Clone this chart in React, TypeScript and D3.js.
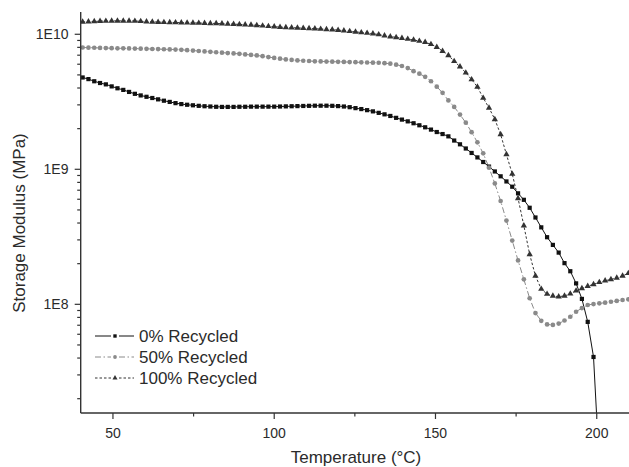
import React from "react";
import * as d3 from "d3";

// Temperature (°C) of every measured point
const temperatures = [
  40.6, 42.4, 44.2, 46.0, 47.8, 49.6, 51.4, 53.2, 55.0, 56.8, 58.6, 60.4, 62.2, 64.0, 65.8, 67.6, 69.4, 71.2, 73.0, 74.8,
  76.6, 78.4, 80.2, 82.0, 83.8, 85.6, 87.4, 89.2, 91.0, 92.8, 94.6, 96.4, 98.2, 100.0, 101.8, 103.6, 105.4, 107.2, 109.0, 110.8,
  112.6, 114.4, 116.2, 118.0, 119.8, 121.6, 123.4, 125.2, 127.0, 128.8, 130.6, 132.4, 134.2, 136.0, 137.8, 139.6, 141.4, 143.2, 145.0, 146.8,
  148.6, 150.4, 152.2, 154.0, 155.8, 157.6, 159.4, 161.2, 163.0, 164.8, 166.6, 168.4, 170.2, 172.0, 173.8, 175.6, 177.4, 179.2, 181.0, 182.8,
  184.6, 186.4, 188.2, 190.0, 191.8, 193.6, 195.4, 197.2, 199.0, 200.8, 202.6, 204.4, 206.2, 208.0, 209.8,
];

// log10 of storage modulus (MPa), 0% recycled
const log10Modulus0 = [
  9.680, 9.668, 9.652, 9.639, 9.629, 9.614, 9.600, 9.588, 9.573, 9.559, 9.547, 9.537, 9.528, 9.518, 9.508, 9.499, 9.490, 9.483, 9.478, 9.474,
  9.470, 9.467, 9.465, 9.463, 9.462, 9.462, 9.462, 9.463, 9.463, 9.464, 9.464, 9.464, 9.464, 9.464, 9.465, 9.466, 9.467, 9.468, 9.469, 9.470,
  9.471, 9.471, 9.471, 9.470, 9.468, 9.465, 9.460, 9.453, 9.446, 9.438, 9.429, 9.418, 9.407, 9.395, 9.381, 9.368, 9.355, 9.341, 9.326, 9.311,
  9.294, 9.276, 9.261, 9.244, 9.213, 9.185, 9.154, 9.121, 9.088, 9.054, 9.020, 8.984, 8.948, 8.910, 8.871, 8.822, 8.774, 8.715, 8.643, 8.570,
  8.497, 8.440, 8.383, 8.305, 8.245, 8.155, 8.040, 7.870, 7.610, 6.800,
];

// log10 of storage modulus (MPa), 50% recycled
const log10Modulus50 = [
  9.902, 9.901, 9.900, 9.899, 9.898, 9.897, 9.896, 9.896, 9.895, 9.894, 9.893, 9.892, 9.891, 9.890, 9.889, 9.888, 9.887, 9.885, 9.882, 9.879,
  9.876, 9.873, 9.870, 9.867, 9.864, 9.861, 9.858, 9.855, 9.851, 9.847, 9.843, 9.838, 9.831, 9.825, 9.819, 9.814, 9.810, 9.806, 9.804, 9.802,
  9.800, 9.799, 9.798, 9.797, 9.796, 9.795, 9.794, 9.793, 9.792, 9.791, 9.790, 9.789, 9.786, 9.782, 9.775, 9.765, 9.750, 9.727, 9.708, 9.685,
  9.652, 9.612, 9.566, 9.510, 9.462, 9.405, 9.345, 9.275, 9.200, 9.118, 9.012, 8.895, 8.765, 8.620, 8.472, 8.325, 8.185, 8.045, 7.935, 7.878,
  7.851, 7.847, 7.857, 7.880, 7.908, 7.945, 7.972, 7.995, 8.002, 8.007, 8.012, 8.019, 8.025, 8.032, 8.037,
];

// log10 of storage modulus (MPa), 100% recycled
const log10Modulus100 = [
  10.091, 10.093, 10.095, 10.097, 10.098, 10.099, 10.099, 10.099, 10.099, 10.098, 10.096, 10.094, 10.092, 10.090, 10.089, 10.088, 10.087, 10.086, 10.085, 10.084,
  10.083, 10.082, 10.081, 10.080, 10.078, 10.077, 10.075, 10.073, 10.071, 10.069, 10.066, 10.063, 10.059, 10.056, 10.053, 10.051, 10.049, 10.047, 10.045, 10.043,
  10.041, 10.039, 10.036, 10.034, 10.031, 10.027, 10.022, 10.018, 10.013, 10.009, 10.004, 9.998, 9.990, 9.983, 9.977, 9.971, 9.965, 9.958, 9.950, 9.941,
  9.926, 9.905, 9.875, 9.843, 9.800, 9.760, 9.715, 9.665, 9.610, 9.528, 9.455, 9.370, 9.258, 9.110, 8.965, 8.785, 8.582, 8.370, 8.210, 8.113,
  8.076, 8.062, 8.057, 8.062, 8.078, 8.100, 8.118, 8.134, 8.148, 8.163, 8.175, 8.184, 8.196, 8.210, 8.230,
];

const seriesNames = ["0% Recycled", "50% Recycled", "100% Recycled"];
const xTicks = [50, 100, 150, 200];
const xMinorTicks = [75, 125, 175];
const yTicks = [1e8, 1e9, 1e10];
const yTickLabels = ["1E8", "1E9", "1E10"];
const xLabel = "Temperature (°C)";
const yLabel = "Storage Modulus (MPa)";

const FONT = "'Liberation Sans', Arial, Helvetica, sans-serif";
const AXIS = "#333";
const TEXT = "#2b2b2b";

type Style = {
  stroke: string;
  fill: string;
  dash: string;
  shape: "square" | "circle" | "triangle";
};
const styles: Style[] = [
  { stroke: "#111", fill: "#111", dash: "none", shape: "square" },
  { stroke: "#8a8a8a", fill: "#8a8a8a", dash: "6,2.5,1.5,2.5", shape: "circle" },
  { stroke: "#333", fill: "#333", dash: "2.5,2", shape: "triangle" },
];

function Marker({ cx, cy, s, scale = 1 }: { cx: number; cy: number; s: Style; scale?: number }) {
  if (s.shape === "square") {
    const h = 2.1 * scale;
    return <rect x={cx - h} y={cy - h} width={2 * h} height={2 * h} fill={s.fill} />;
  }
  if (s.shape === "circle") return <circle cx={cx} cy={cy} r={2.35 * scale} fill={s.fill} />;
  const p = d3.symbol().type(d3.symbolTriangle).size(17 * scale * scale)();
  return <path d={p || ""} transform={`translate(${cx},${cy})`} fill={s.fill} />;
}

export default function App() {
  const W = 629;
  const H = 467;
  const left = 80.7;
  const right = 629;
  const top = 12;
  const bottom = 413;
  const x = d3.scaleLinear().domain([40, 210]).range([left, right]);
  const y = d3.scaleLog().domain([1.567e7, 1.462e10]).range([bottom, top]);

  const allSeries = [log10Modulus0, log10Modulus50, log10Modulus100].map((arr) =>
    arr.map((lv, i) => ({ t: temperatures[i], v: Math.pow(10, lv) }))
  );

  const line = d3
    .line<{ t: number; v: number }>()
    .x((d) => x(d.t))
    .y((d) => y(d.v));

  const yMinor: number[] = [];
  [1e7, 1e8, 1e9].forEach((dec) => {
    for (let k = 2; k <= 9; k++) {
      const v = dec * k;
      if (v >= y.domain()[0] && v <= y.domain()[1]) yMinor.push(v);
    }
  });

  const legendY = [336, 357, 378];

  return (
    <svg
      width={W}
      height={H}
      style={{ position: "absolute", left: 0, top: 0, background: "#fff", display: "block" }}
      fontFamily={FONT}
    >
      <defs>
        <clipPath id="plotClip">
          <rect x={left} y={top} width={right - left} height={bottom - top} />
        </clipPath>
      </defs>
      <rect x={0} y={0} width={W} height={H} fill="#fff" />

      <g clipPath="url(#plotClip)">
        {allSeries.map((data, si) => (
          <path
            key={"l" + si}
            d={line(data) || ""}
            fill="none"
            stroke={styles[si].stroke}
            strokeWidth={1}
            strokeDasharray={styles[si].dash}
          />
        ))}
        {allSeries.map((data, si) => (
          <g key={"m" + si}>
            {data.map((d, i) => (
              <Marker key={i} cx={x(d.t)} cy={y(d.v)} s={styles[si]} />
            ))}
          </g>
        ))}
      </g>

      {/* axes */}
      <line x1={left} x2={left} y1={top} y2={bottom} stroke={AXIS} strokeWidth={1.4} />
      <line x1={left} x2={right} y1={bottom} y2={bottom} stroke={AXIS} strokeWidth={1.4} />

      {xTicks.map((t) => (
        <g key={"xt" + t}>
          <line x1={x(t)} x2={x(t)} y1={bottom} y2={bottom + 6} stroke={AXIS} strokeWidth={1.2} />
          <text x={x(t)} y={438} textAnchor="middle" fontSize={14} fill={TEXT}>
            {t}
          </text>
        </g>
      ))}
      {xMinorTicks.map((t) => (
        <line key={"xm" + t} x1={x(t)} x2={x(t)} y1={bottom} y2={bottom + 3.5} stroke={AXIS} strokeWidth={1.2} />
      ))}

      {yTicks.map((v, i) => (
        <g key={"yt" + v}>
          <line x1={left - 6} x2={left} y1={y(v)} y2={y(v)} stroke={AXIS} strokeWidth={1.2} />
          <text x={68.5} y={y(v) + 5} textAnchor="end" fontSize={14} fill={TEXT}>
            {yTickLabels[i]}
          </text>
        </g>
      ))}
      {yMinor.map((v) => (
        <line key={"ym" + v} x1={left - 3.5} x2={left} y1={y(v)} y2={y(v)} stroke={AXIS} strokeWidth={1.2} />
      ))}

      <text x={356} y={463} textAnchor="middle" fontSize={17} fill={TEXT}>
        {xLabel}
      </text>
      <text
        transform={`translate(24.5,223) rotate(-90)`}
        textAnchor="middle"
        fontSize={17}
        fill={TEXT}
      >
        {yLabel}
      </text>

      {/* legend */}
      {seriesNames.map((name, i) => (
        <g key={"lg" + i}>
          <line
            x1={95}
            x2={111}
            y1={legendY[i]}
            y2={legendY[i]}
            stroke={styles[i].stroke}
            strokeWidth={1}
            strokeDasharray={styles[i].dash}
          />
          <line
            x1={119}
            x2={134}
            y1={legendY[i]}
            y2={legendY[i]}
            stroke={styles[i].stroke}
            strokeWidth={1}
            strokeDasharray={styles[i].dash}
          />
          <Marker cx={115} cy={legendY[i]} s={styles[i]} scale={0.8} />
          <text x={139} y={legendY[i] + 6} fontSize={17} fill={TEXT}>
            {name}
          </text>
        </g>
      ))}
    </svg>
  );
}
